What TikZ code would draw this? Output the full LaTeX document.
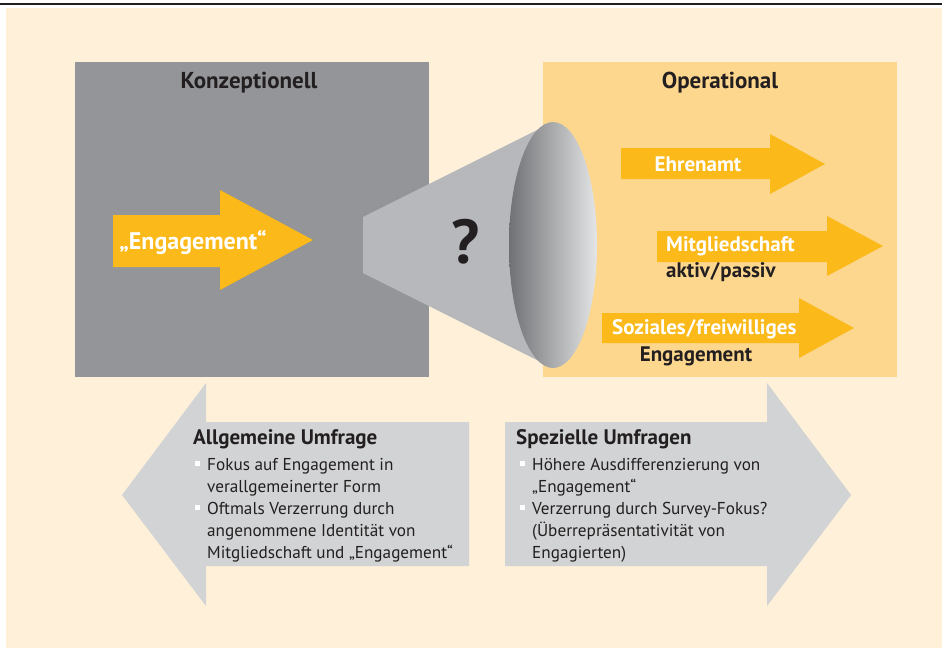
\documentclass[tikz,border=0pt]{standalone}
\usepackage{fontspec}
\setmainfont{PT Sans}
\definecolor{cream}{HTML}{FEF0D9}
\definecolor{boxgray}{HTML}{939598}
\definecolor{boxorange}{HTML}{FDD78D}
\definecolor{arroworange}{HTML}{FBB91A}
\definecolor{conegray}{HTML}{B6B8BB}
\definecolor{conedark}{HTML}{707174}
\definecolor{conelight}{HTML}{E4E5E6}
\definecolor{lightgray}{HTML}{D1D3D4}
\definecolor{darktext}{HTML}{231F20}
\newcommand{\bul}{\textcolor{white}{\rule[0.25em]{5pt}{5pt}}\hspace{7pt}}
\newcommand{\ind}{\hspace{12pt}}
\begin{document}
\begin{tikzpicture}[x=1pt,y=-1pt]
			\tikzstyle{title} = [font=\fontsize{23}{26}\selectfont\bfseries, text=darktext]
			\tikzstyle{white label} = [font=\fontsize{21}{24}\selectfont\bfseries, text=white, inner sep=0pt]
			\tikzstyle{dark label} = [font=\fontsize{21}{24}\selectfont\bfseries, text=darktext, inner sep=0pt]
			\tikzstyle{head} = [font=\fontsize{21}{24}\selectfont\bfseries, text=darktext, anchor=west, inner sep=0pt]
			\tikzstyle{list} = [font=\fontsize{17.2}{22}\selectfont, text=darktext, anchor=north west, align=left, inner sep=0pt]
			\useasboundingbox (0,0) rectangle (942,649);
			\fill[cream] (6,8) rectangle (942,648);
			\draw[line width=2pt, darktext] (0,4) -- (942,4);
			% two boxes
			\fill[boxgray] (75,62) rectangle (429,377);
			\fill[boxorange] (543,62) rectangle (897,377);
			\node[title] (K) at (249,83) {Konzeptionell};
			\node[title] (O) at (720,83) {Operational};
			% arrow in the grey box
			\fill[arroworange] (113,215) -- (220,215) -- (220,190) -- (313,240) -- (220,290) -- (220,267) -- (113,267) -- cycle;
			\node[white label, font=\fontsize{24}{26}\selectfont\bfseries] (E) at (193,242) {„Engagement“};
			% cone
			\fill[conegray] (363,217) -- (553,122) -- (553,368) -- (363,273) -- cycle;
			\shade[left color=conedark, right color=conelight] (553,245) ellipse (44 and 123);
			\node[font=\fontsize{62}{62}\selectfont\bfseries, text=darktext] (Q) at (466,242) {?};
			% arrows in the orange box
			\fill[arroworange] (621,148) -- (770,148) -- (770,134) -- (825,164) -- (770,194) -- (770,179) -- (621,179) -- cycle;
			\fill[arroworange] (657,231) -- (827,231) -- (827,216) -- (883,246) -- (827,276) -- (827,262) -- (657,262) -- cycle;
			\fill[arroworange] (602,313) -- (799,313) -- (799,298) -- (854,328) -- (799,358) -- (799,343) -- (602,343) -- cycle;
			\node[white label] (Eh) at (698,164) {Ehrenamt};
			\node[white label, anchor=west] (M) at (666,246) {Mitgliedschaft};
			\node[dark label, anchor=west] (Ma) at (666,272) {aktiv\hspace{1pt}/\hspace{1pt}passiv};
			\node[white label, anchor=west] (S) at (612,329) {Soziales\hspace{1pt}/\hspace{1pt}freiwilliges};
			\node[dark label] (Se) at (696,356) {Engagement};
			% big grey arrows
			\fill[lightgray] (469,422) -- (206,422) -- (206,383) -- (122,495) -- (206,606) -- (206,566) -- (469,566) -- cycle;
			\fill[lightgray] (505,422) -- (767,422) -- (767,383) -- (851,495) -- (767,606) -- (767,566) -- (505,566) -- cycle;
			\node[head] (A) at (193,439) {Allgemeine Umfrage};
			\node[list] (Al) at (195,458) {\bul Fokus auf Engagement in\\ \ind verallgemeinerter Form\\ \bul Oftmals Verzerrung durch\\ \ind angenommene Identität von\\ \ind Mitgliedschaft und „Engagement“};
			\node[head] (Sp) at (516,439) {Spezielle Umfragen};
			\node[list] (Sl) at (520,458) {\bul Höhere Ausdifferenzierung von\\ \ind „Engagement“\\ \bul Verzerrung durch Survey-Fokus?\\ \ind (Überrepräsentativität von\\ \ind Engagierten)};
\end{tikzpicture}
\end{document}
